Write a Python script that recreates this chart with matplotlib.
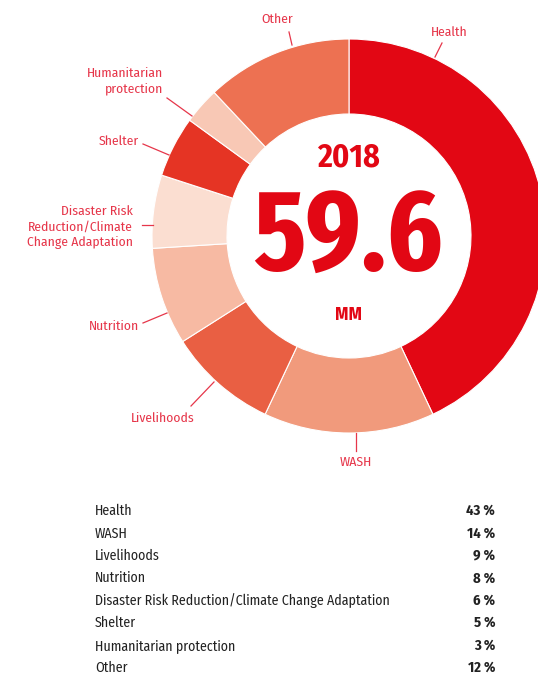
import matplotlib
matplotlib.use("Agg")
import matplotlib.pyplot as plt

# data
categories = ["Health", "WASH", "Livelihoods", "Nutrition",
              "Disaster Risk Reduction/Climate Change Adaptation",
              "Shelter", "Humanitarian protection", "Other"]
shares = [43, 14, 9, 8, 6, 5, 3, 12]
chart_labels = ["Health", "WASH", "Livelihoods", "Nutrition",
                "Disaster Risk\nReduction/Climate\nChange Adaptation",
                "Shelter", "Humanitarian\nprotection", "Other"]
year = "2018"
total = "59.6"
unit = "MM"

colors = ["#E20714", "#F19A7C", "#E95F43", "#F7BAA3",
          "#FBDED1", "#E53424", "#F8C8B5", "#ED7152"]

FONT = ["Fira Sans Condensed", "DejaVu Sans"]
BIG_FONT = ["Fira Sans Extra Condensed", "Fira Sans Condensed", "DejaVu Sans"]
RED = "#E20714"
LABEL_RED = "#E6364A"
DARK = "#222222"

fig = plt.figure(figsize=(5.38, 6.74), dpi=100)
ax = fig.add_axes([0, 0, 1, 1])

# y axis is inverted (pixel style), so data-ccw from -90 looks clockwise from top
ax.pie(shares, colors=colors, startangle=-90, counterclock=True,
       center=(349, 236), radius=197,
       wedgeprops=dict(width=75, edgecolor="white", linewidth=0.8))
ax.set_xlim(0, 538)
ax.set_ylim(674, 0)
ax.set_aspect("equal")
ax.axis("off")

# center text
ax.text(348, 158, year, ha="center", va="center", color=RED,
        fontsize=23, fontweight="bold", family=FONT)
ax.text(348.5, 240, total, ha="center", va="center", color=RED,
        fontsize=83, fontweight="bold", family=BIG_FONT)
ax.text(348, 314.5, unit, ha="center", va="center", color=RED,
        fontsize=13.5, fontweight="bold", family=FONT)

# outside labels: (text x, text y, ha, leader line start, leader line end)
label_layout = {
    "Health": (449, 32, "center", (442, 43), (435, 57)),
    "WASH": (356, 462, "center", (356, 451), (356, 433)),
    "Livelihoods": (163, 418, "center", (191, 406), (214, 382)),
    "Nutrition": (139, 326, "right", (143, 323), (167, 313)),
    "Disaster Risk\nReduction/Climate\nChange Adaptation": (133, 227, "right", (142, 225), (153, 225)),
    "Shelter": (139, 141, "right", (143, 144), (169, 155)),
    "Humanitarian\nprotection": (163, 81, "right", (167, 98), (192, 116)),
    "Other": (277, 19, "center", (289, 32), (292, 45)),
}
for lab in chart_labels:
    tx, ty, ha, p0, p1 = label_layout[lab]
    ax.text(tx, ty, lab, ha=ha, va="center", color=LABEL_RED,
            fontsize=9.8, family=FONT, linespacing=1.3, multialignment=ha)
    ax.plot([p0[0], p1[0]], [p0[1], p1[1]], color=LABEL_RED, lw=0.9)

# table below
row_y0 = 511
row_step = 22.4
for i, (cat, val) in enumerate(zip(categories, shares)):
    y = row_y0 + i * row_step
    ax.text(95, y, cat, ha="left", va="center", color=DARK,
            fontsize=10, family=FONT)
    ax.text(495, y, f"{val} %", ha="right", va="center", color=DARK,
            fontsize=10.5, fontweight="bold", family=FONT)

fig.savefig("out.png", dpi=100)
